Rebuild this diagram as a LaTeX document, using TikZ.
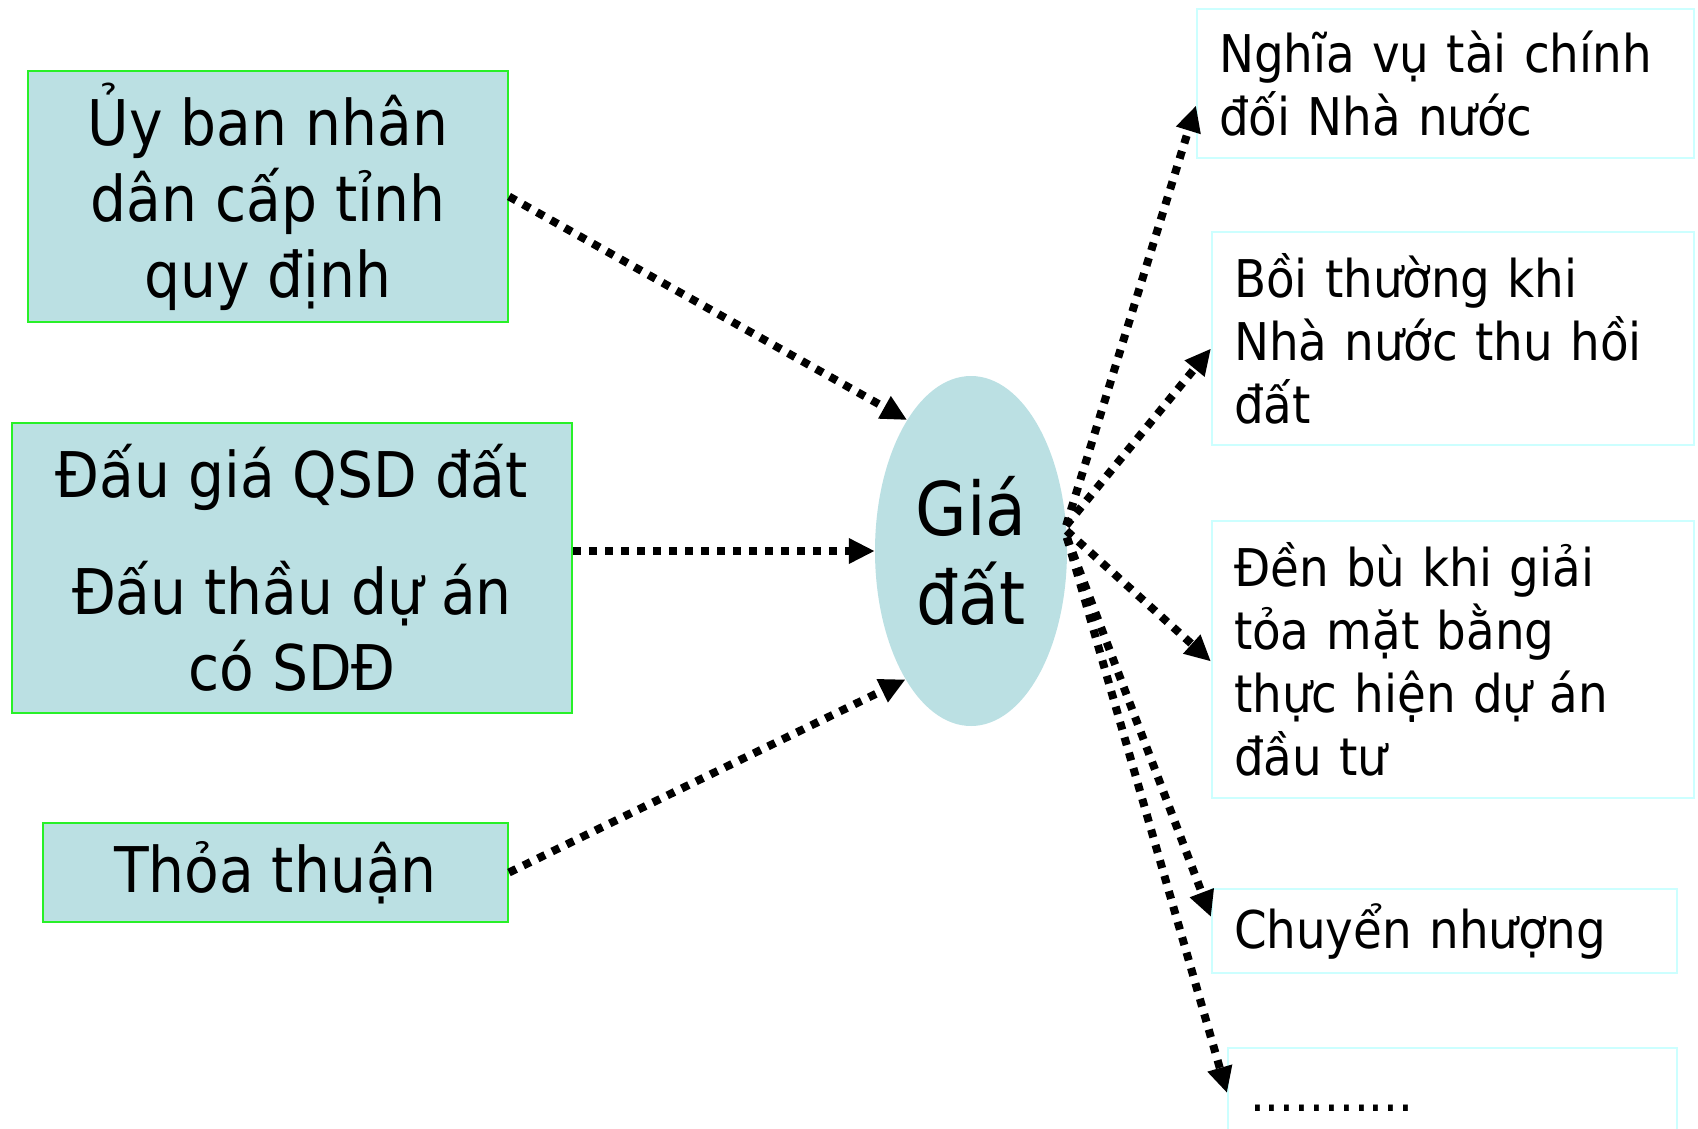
\documentclass[tikz,border=0pt]{standalone}
\usepackage{fontspec}
\setmainfont{DejaVu Sans Condensed}
\usetikzlibrary{arrows.meta,shapes.geometric,calc}
\definecolor{boxfill}{RGB}{187,224,227}
\definecolor{greenline}{RGB}{40,240,40}
\definecolor{cyanline}{RGB}{204,255,255}
\begin{document}
\begin{tikzpicture}[x=1pt,y=-1pt,
  srcbox/.style={draw=greenline, line width=2pt, fill=boxfill, inner sep=0pt, align=center, font=\fontsize{63}{76}\selectfont},
  dstbox/.style={draw=cyanline, line width=2pt, fill=white, inner xsep=22pt, inner ysep=0pt, align=left, anchor=north west, font=\fontsize{52}{63}\selectfont},
  flow/.style={line width=8pt, dash pattern=on 8pt off 8pt, -{Triangle[length=26pt,width=24pt]}}
]
\useasboundingbox (0,0) rectangle (1698,1128);
\clip (0,0) rectangle (1698,1128);

\node[srcbox, minimum width=480pt, minimum height=251pt] (b1) at (268,196.5) {Ủy ban nhân\\dân cấp tỉnh\\quy định};
\node[srcbox, minimum width=560pt, minimum height=290pt] (b2) at (292,568) {Đấu giá QSD đất\\[41pt]Đấu thầu dự án\\có SDĐ};
\node[srcbox, minimum width=465pt, minimum height=99pt] (b3) at (275.5,872.5) {Thỏa thuận};

\node[ellipse, fill=boxfill, minimum width=192pt, minimum height=350pt, inner sep=0pt, align=center, font=\fontsize{74}{89}\selectfont] (ell) at (971,551) {Giá\\đất};

\node[dstbox, minimum width=497pt, minimum height=149pt, text width=453pt] (r1) at (1196,8) {Nghĩa vụ tài chính\\đối Nhà nước};
\node[dstbox, minimum width=482pt, minimum height=213pt, text width=438pt] (r2) at (1211,231) {Bồi thường khi\\Nhà nước thu hồi\\đất};
\node[dstbox, minimum width=482pt, minimum height=277pt, text width=438pt] (r3) at (1211,520) {Đền bù khi giải\\tỏa mặt bằng\\thực hiện dự án\\đầu tư};
\node[dstbox, minimum width=465pt, minimum height=84pt, text width=421pt] (r4) at (1211,888) {Chuyển nhượng};
\node[dstbox, minimum width=449pt, minimum height=120pt, text width=405pt] (r5) at (1227,1047) {...........};

\draw[flow] (b1.east) -- (ell.116.4);
\draw[flow] ([yshift=17pt]b2.east) -- (ell.west);
\draw[flow] (b3.east) -- (ell.243.6);

\draw[flow] (ell.15) -- ([yshift=-22pt]r1.west);
\draw[flow] (ell.15) -- ([yshift=-10pt]r2.west);
\draw[flow] (ell.12) -- ([yshift=-2pt]r3.west);
\draw[flow] (ell.8) -- ([yshift=-29pt]r4.north west);
\draw[flow] (ell.8) -- ([yshift=-46pt]r5.north west);
\end{tikzpicture}
\end{document}
